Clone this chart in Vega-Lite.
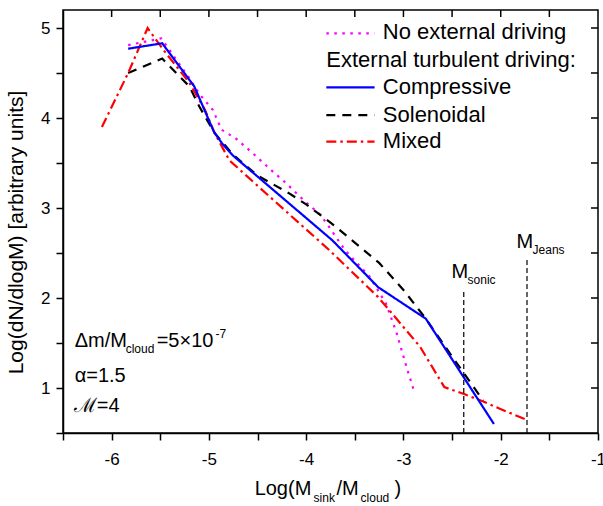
{
  "$schema": "https://vega.github.io/schema/vega-lite/v6.json",
  "width": 535,
  "height": 423,
  "autosize": {"type": "none"},
  "padding": {"left": 63, "top": 10, "right": 5, "bottom": 73},
  "background": "white",
  "config": {
    "view": {"stroke": "black", "strokeWidth": 1.5},
    "font": "Liberation Sans",
    "axis": {
      "domainColor": "black", "domainWidth": 1.5,
      "tickColor": "black", "tickWidth": 1.5, "tickSize": 7,
      "labelColor": "black", "labelFont": "Liberation Sans", "labelFontSize": 17,
      "titleFont": "Liberation Sans", "titleColor": "black", "titleFontWeight": "normal",
      "grid": false, "labelFlush": false, "labelOverlap": false
    },
    "text": {"font": "Liberation Sans", "color": "black"}
  },
  "datasets": {
    "curves": [
      {"series": "No external driving", "x": -5.83, "y": 4.81},
      {"series": "No external driving", "x": -5.49, "y": 4.885},
      {"series": "No external driving", "x": -5.2, "y": 4.44},
      {"series": "No external driving", "x": -5.1, "y": 4.27},
      {"series": "No external driving", "x": -4.96, "y": 4.09},
      {"series": "No external driving", "x": -4.87, "y": 3.87},
      {"series": "No external driving", "x": -4.72, "y": 3.77},
      {"series": "No external driving", "x": -4.55, "y": 3.61},
      {"series": "No external driving", "x": -4.38, "y": 3.44},
      {"series": "No external driving", "x": -4.2, "y": 3.27},
      {"series": "No external driving", "x": -4.03, "y": 3.09},
      {"series": "No external driving", "x": -3.86, "y": 2.93},
      {"series": "No external driving", "x": -3.79, "y": 2.83},
      {"series": "No external driving", "x": -3.6, "y": 2.53},
      {"series": "No external driving", "x": -3.35, "y": 2.24},
      {"series": "No external driving", "x": -3.18, "y": 1.94},
      {"series": "No external driving", "x": -3.07, "y": 1.61},
      {"series": "No external driving", "x": -2.97, "y": 1.24},
      {"series": "No external driving", "x": -2.89, "y": 0.96},
      {"series": "Solenoidal", "x": -5.83, "y": 4.5},
      {"series": "Solenoidal", "x": -5.48, "y": 4.66},
      {"series": "Solenoidal", "x": -5.2, "y": 4.35},
      {"series": "Solenoidal", "x": -5.1, "y": 4.13},
      {"series": "Solenoidal", "x": -4.94, "y": 3.83},
      {"series": "Solenoidal", "x": -4.75, "y": 3.59},
      {"series": "Solenoidal", "x": -4.5, "y": 3.36},
      {"series": "Solenoidal", "x": -4.17, "y": 3.16},
      {"series": "Solenoidal", "x": -4.0, "y": 3.04},
      {"series": "Solenoidal", "x": -3.79, "y": 2.87},
      {"series": "Solenoidal", "x": -3.66, "y": 2.76},
      {"series": "Solenoidal", "x": -3.25, "y": 2.39},
      {"series": "Solenoidal", "x": -3.0, "y": 2.09},
      {"series": "Solenoidal", "x": -2.77, "y": 1.77},
      {"series": "Solenoidal", "x": -2.5, "y": 1.35},
      {"series": "Solenoidal", "x": -2.18, "y": 0.86},
      {"series": "Mixed", "x": -6.1, "y": 3.9},
      {"series": "Mixed", "x": -5.83, "y": 4.5},
      {"series": "Mixed", "x": -5.63, "y": 5.0},
      {"series": "Mixed", "x": -5.47, "y": 4.76},
      {"series": "Mixed", "x": -5.2, "y": 4.39},
      {"series": "Mixed", "x": -5.04, "y": 4.09},
      {"series": "Mixed", "x": -4.94, "y": 3.83},
      {"series": "Mixed", "x": -4.79, "y": 3.53},
      {"series": "Mixed", "x": -4.39, "y": 3.14},
      {"series": "Mixed", "x": -3.76, "y": 2.53},
      {"series": "Mixed", "x": -3.26, "y": 2.01},
      {"series": "Mixed", "x": -2.83, "y": 1.46},
      {"series": "Mixed", "x": -2.58, "y": 1.01},
      {"series": "Mixed", "x": -2.37, "y": 0.93},
      {"series": "Mixed", "x": -2.18, "y": 0.85},
      {"series": "Mixed", "x": -2.01, "y": 0.77},
      {"series": "Mixed", "x": -1.74, "y": 0.65},
      {"series": "Compressive", "x": -5.83, "y": 4.77},
      {"series": "Compressive", "x": -5.48, "y": 4.83},
      {"series": "Compressive", "x": -5.15, "y": 4.35},
      {"series": "Compressive", "x": -4.95, "y": 3.85},
      {"series": "Compressive", "x": -4.86, "y": 3.71},
      {"series": "Compressive", "x": -4.75, "y": 3.58},
      {"series": "Compressive", "x": -3.73, "y": 2.64},
      {"series": "Compressive", "x": -3.26, "y": 2.12},
      {"series": "Compressive", "x": -2.77, "y": 1.77},
      {"series": "Compressive", "x": -2.07, "y": 0.6}
    ],
    "vlines": [
      {"x": -2.38, "y": 0.5, "y2": 2.1},
      {"x": -1.73, "y": 0.5, "y2": 2.43}
    ],
    "topTicks": [
      {"x": -6, "y": 5.2}, {"x": -5.5, "y": 5.2}, {"x": -5, "y": 5.2},
      {"x": -4.5, "y": 5.2}, {"x": -4, "y": 5.2}, {"x": -3.5, "y": 5.2},
      {"x": -3, "y": 5.2}, {"x": -2.5, "y": 5.2}, {"x": -2, "y": 5.2},
      {"x": -1.5, "y": 5.2}
    ],
    "rightTicks": [
      {"x": -1, "y": 1}, {"x": -1, "y": 1.5}, {"x": -1, "y": 2},
      {"x": -1, "y": 2.5}, {"x": -1, "y": 3}, {"x": -1, "y": 3.5},
      {"x": -1, "y": 4}, {"x": -1, "y": 4.5}, {"x": -1, "y": 5}
    ],
    "legendLines": [
      {"series": "No external driving", "x": -3.793, "x2": -3.297, "y": 4.941},
      {"series": "Compressive", "x": -3.793, "x2": -3.297, "y": 4.341},
      {"series": "Solenoidal", "x": -3.793, "x2": -3.297, "y": 4.033},
      {"series": "Mixed", "x": -3.793, "x2": -3.297, "y": 3.737}
    ],
    "legendText": [
      {"text": "No external driving", "x": -3.212, "y": 4.874},
      {"text": "External turbulent driving:", "x": -3.793, "y": 4.57},
      {"text": "Compressive", "x": -3.212, "y": 4.267},
      {"text": "Solenoidal", "x": -3.212, "y": 3.959},
      {"text": "Mixed", "x": -3.212, "y": 3.663}
    ],
    "bigText": [
      {"text": "Δm/M", "x": -6.38, "y": 1.456},
      {"text": "=5×10", "x": -5.537, "y": 1.456},
      {"text": "α=1.5", "x": -6.38, "y": 1.067},
      {"text": "ℳ=4", "x": -6.39, "y": 0.733},
      {"text": "M", "x": -2.506, "y": 2.222},
      {"text": "M", "x": -1.838, "y": 2.556},
      {"text": "Log(M", "x": -4.53, "y": -0.189},
      {"text": "/M", "x": -3.688, "y": -0.189},
      {"text": ")", "x": -3.092, "y": -0.189}
    ],
    "smallText": [
      {"text": "cloud", "x": -5.856, "y": 1.389},
      {"text": "-7", "x": -4.931, "y": 1.556},
      {"text": "sonic", "x": -2.341, "y": 2.156},
      {"text": "Jeans", "x": -1.673, "y": 2.489},
      {"text": "sink", "x": -3.924, "y": -0.267},
      {"text": "cloud", "x": -3.441, "y": -0.267}
    ]
  },
  "resolve": {"axis": {"x": "independent", "y": "independent"}},
  "layer": [
    {
      "data": {"name": "curves"},
      "mark": {"type": "line", "strokeWidth": 2.2, "strokeCap": "butt"},
      "encoding": {
        "x": {
          "field": "x", "type": "quantitative",
          "scale": {"domain": [-6.5, -1], "nice": false, "zero": false},
          "axis": {
            "orient": "bottom", "title": null,
            "values": [-6.5, -6, -5.5, -5, -4.5, -4, -3.5, -3, -2.5, -2, -1.5, -1],
            "labelExpr": "datum.value % 1 == 0 ? '' + datum.value : ''",
            "labelPadding": 11
          }
        },
        "y": {
          "field": "y", "type": "quantitative",
          "scale": {"domain": [0.5, 5.2], "nice": false, "zero": false},
          "axis": {
            "orient": "left",
            "title": "Log(dN/dlogM) [arbitrary units]",
            "titleFontSize": 21,
            "titleAngle": -90,
            "titleAlign": "center",
            "titleBaseline": "alphabetic",
            "titleX": -41,
            "titleY": 222,
            "values": [0.5, 1, 1.5, 2, 2.5, 3, 3.5, 4, 4.5, 5],
            "labelExpr": "datum.value % 1 == 0 ? '' + datum.value : ''",
            "labelPadding": 6
          }
        },
        "color": {
          "field": "series", "type": "nominal",
          "scale": {"domain": ["No external driving", "Compressive", "Solenoidal", "Mixed"], "range": ["#ff00ff", "#0000ff", "#000000", "#ff0000"]},
          "legend": null
        },
        "strokeDash": {
          "field": "series", "type": "nominal",
          "scale": {"domain": ["No external driving", "Compressive", "Solenoidal", "Mixed"], "range": [[2.5, 5.5], [1, 0], [9, 7], [10, 4, 2.5, 4]]},
          "legend": null
        }
      }
    },
    {
      "data": {"name": "vlines"},
      "mark": {"type": "rule", "color": "black", "strokeWidth": 1.2, "strokeDash": [5, 3]},
      "encoding": {
        "x": {"field": "x", "type": "quantitative", "scale": {"domain": [-6.5, -1], "nice": false, "zero": false}, "axis": null},
        "y": {"field": "y", "type": "quantitative", "scale": {"domain": [0.5, 5.2], "nice": false, "zero": false}, "axis": null},
        "y2": {"field": "y2"}
      }
    },
    {
      "data": {"name": "topTicks"},
      "mark": {"type": "tick", "orient": "vertical", "size": 14, "thickness": 1.5, "color": "black", "opacity": 1, "clip": true},
      "encoding": {
        "x": {"field": "x", "type": "quantitative", "scale": {"domain": [-6.5, -1], "nice": false, "zero": false}, "axis": null},
        "y": {"field": "y", "type": "quantitative", "scale": {"domain": [0.5, 5.2], "nice": false, "zero": false}, "axis": null}
      }
    },
    {
      "data": {"name": "rightTicks"},
      "mark": {"type": "tick", "orient": "horizontal", "size": 14, "thickness": 1.5, "color": "black", "opacity": 1, "clip": true},
      "encoding": {
        "x": {"field": "x", "type": "quantitative", "scale": {"domain": [-6.5, -1], "nice": false, "zero": false}, "axis": null},
        "y": {"field": "y", "type": "quantitative", "scale": {"domain": [0.5, 5.2], "nice": false, "zero": false}, "axis": null}
      }
    },
    {
      "data": {"name": "legendLines"},
      "mark": {"type": "rule", "strokeWidth": 2.2, "strokeCap": "butt"},
      "encoding": {
        "x": {"field": "x", "type": "quantitative", "scale": {"domain": [-6.5, -1], "nice": false, "zero": false}, "axis": null},
        "x2": {"field": "x2"},
        "y": {"field": "y", "type": "quantitative", "scale": {"domain": [0.5, 5.2], "nice": false, "zero": false}, "axis": null},
        "color": {
          "field": "series", "type": "nominal",
          "scale": {"domain": ["No external driving", "Compressive", "Solenoidal", "Mixed"], "range": ["#ff00ff", "#0000ff", "#000000", "#ff0000"]},
          "legend": null
        },
        "strokeDash": {
          "field": "series", "type": "nominal",
          "scale": {"domain": ["No external driving", "Compressive", "Solenoidal", "Mixed"], "range": [[2.5, 5.5], [1, 0], [9, 7], [10, 4, 2.5, 4]]},
          "legend": null
        }
      }
    },
    {
      "data": {"name": "legendText"},
      "mark": {"type": "text", "align": "left", "baseline": "alphabetic", "fontSize": 22, "font": "Liberation Sans", "color": "black"},
      "encoding": {
        "x": {"field": "x", "type": "quantitative", "scale": {"domain": [-6.5, -1], "nice": false, "zero": false}, "axis": null},
        "y": {"field": "y", "type": "quantitative", "scale": {"domain": [0.5, 5.2], "nice": false, "zero": false}, "axis": null},
        "text": {"field": "text"}
      }
    },
    {
      "data": {"name": "bigText"},
      "mark": {"type": "text", "align": "left", "baseline": "alphabetic", "fontSize": 20, "font": "Liberation Sans", "color": "black"},
      "encoding": {
        "x": {"field": "x", "type": "quantitative", "scale": {"domain": [-6.5, -1], "nice": false, "zero": false}, "axis": null},
        "y": {"field": "y", "type": "quantitative", "scale": {"domain": [0.5, 5.2], "nice": false, "zero": false}, "axis": null},
        "text": {"field": "text"}
      }
    },
    {
      "data": {"name": "smallText"},
      "mark": {"type": "text", "align": "left", "baseline": "alphabetic", "fontSize": 12, "font": "Liberation Sans", "color": "black"},
      "encoding": {
        "x": {"field": "x", "type": "quantitative", "scale": {"domain": [-6.5, -1], "nice": false, "zero": false}, "axis": null},
        "y": {"field": "y", "type": "quantitative", "scale": {"domain": [0.5, 5.2], "nice": false, "zero": false}, "axis": null},
        "text": {"field": "text"}
      }
    }
  ]
}
